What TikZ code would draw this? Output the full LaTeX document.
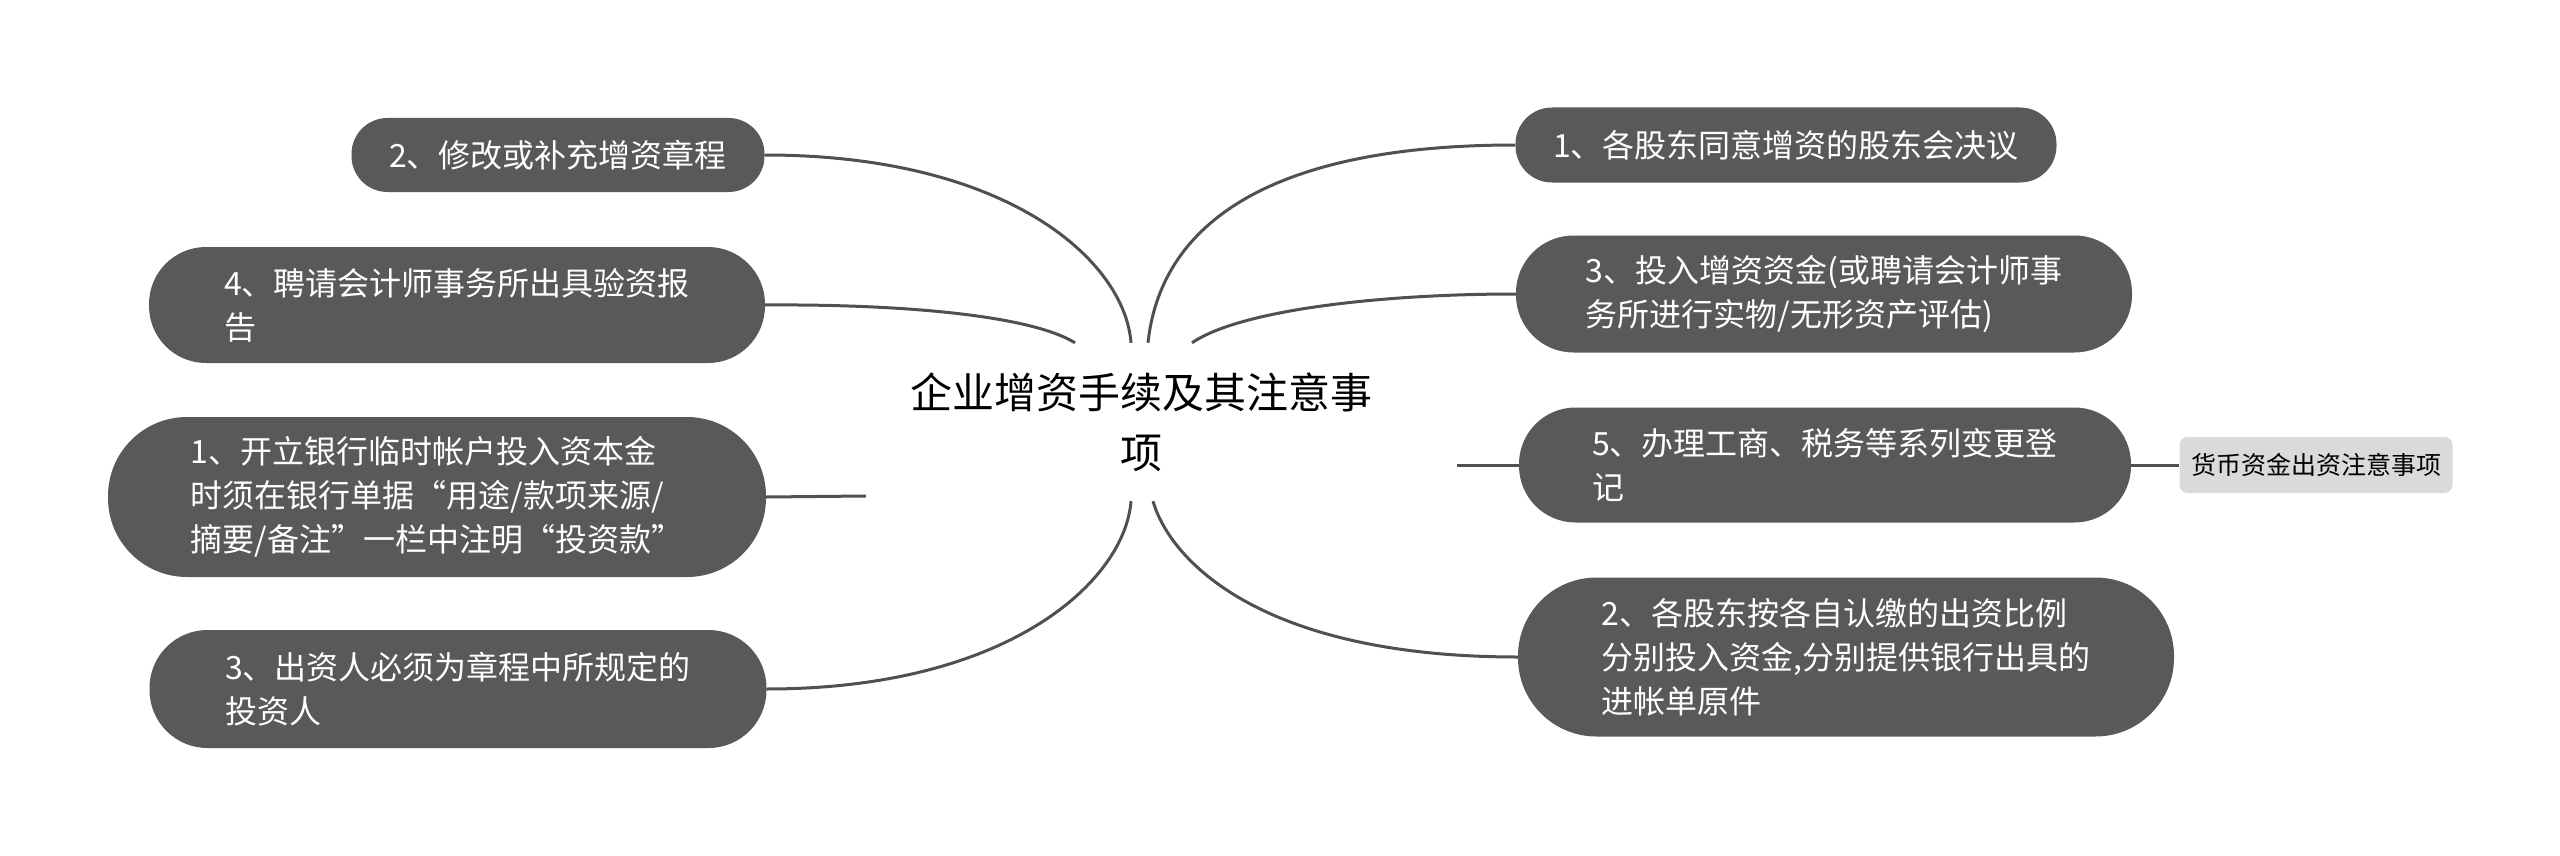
\documentclass[tikz,border=0pt]{standalone}
\usepackage{fontspec}
\setmainfont{Noto Sans CJK SC}
\usepackage{tikz}
\usepackage{xcolor}
\definecolor{topicgray}{RGB}{89,89,89}
\definecolor{linkgray}{RGB}{80,80,80}
\definecolor{subgray}{RGB}{218,218,218}
\tikzset{
  root/.style={align=center,text=black,minimum width=550pt,minimum height=158pt,
    font=\fontsize{42}{60}\selectfont},
  topic/.style={fill=topicgray,text=white,align=left,inner sep=0pt,
    font=\fontsize{32}{44}\selectfont},
  pill/.style 2 args={minimum width=#1pt,minimum height=#2pt,rounded corners=#2pt/2-1pt},
  subtopic/.style={fill=subgray,text=black,rounded corners=8pt,inner sep=0pt,
    minimum width=273pt,minimum height=56pt,font=\fontsize{25}{30}\selectfont},
  link/.style={draw=linkgray,line width=3pt}
}
\begin{document}
\begin{tikzpicture}[x=1pt,y=-1pt]
  \useasboundingbox (0,0) rectangle (2560,856);

  \node[root] (root) at (1141,422) {企业增资手续及其注意事\\项};

  % left branches
  \node[topic,pill={413}{74}] (l2) at (558,155) {2、修改或补充增资章程};
  \node[topic,pill={616}{116}] (l4) at (457,305) {4、聘请会计师事务所出具验资报\\告};
  \node[topic,pill={658}{160}] (l1) at (437,497) {1、开立银行临时帐户投入资本金\\时须在银行单据“用途/款项来源/\\摘要/备注”一栏中注明“投资款”};
  \node[topic,pill={617}{118}] (l3) at (458,689) {3、出资人必须为章程中所规定的\\投资人};

  % right branches
  \node[topic,pill={541}{75}] (r1) at (1786,145) {1、各股东同意增资的股东会决议};
  \node[topic,pill={616}{117}] (r3) at (1824,294) {3、投入增资资金(或聘请会计师事\\务所进行实物/无形资产评估)};
  \node[topic,pill={612}{115}] (r5) at (1825,465) {5、办理工商、税务等系列变更登\\记};
  \node[topic,pill={656}{159}] (r2) at (1846,657) {2、各股东按各自认缴的出资比例\\分别投入资金,分别提供银行出具的\\进帐单原件};
  \node[subtopic] (sub) at (2316,465) {货币资金出资注意事项};

  \draw[link] ([xshift=-10pt]root.north) .. controls (1125,262) and (1010,155) .. (l2.east);
  \draw[link] ([xshift=-66pt]root.north) .. controls (1030,315) and (900,304) .. (l4.east);
  \draw[link] ([yshift=-74pt]root.west) -- (l1.east);
  \draw[link] ([xshift=-10pt]root.south) .. controls (1125,580) and (1010,689) .. (l3.east);

  \draw[link] ([xshift=7pt]root.north) .. controls (1160,230) and (1260,145) .. (r1.west);
  \draw[link] ([xshift=51pt]root.north) .. controls (1240,310) and (1380,294) .. (r3.west);
  \draw[link] ([xshift=41pt,yshift=-43pt]root.east) -- (r5.west);
  \draw[link] ([xshift=12pt]root.south) .. controls (1170,560) and (1260,657) .. (r2.west);
  \draw[link] (r5.east) -- (sub.west);
\end{tikzpicture}
\end{document}
